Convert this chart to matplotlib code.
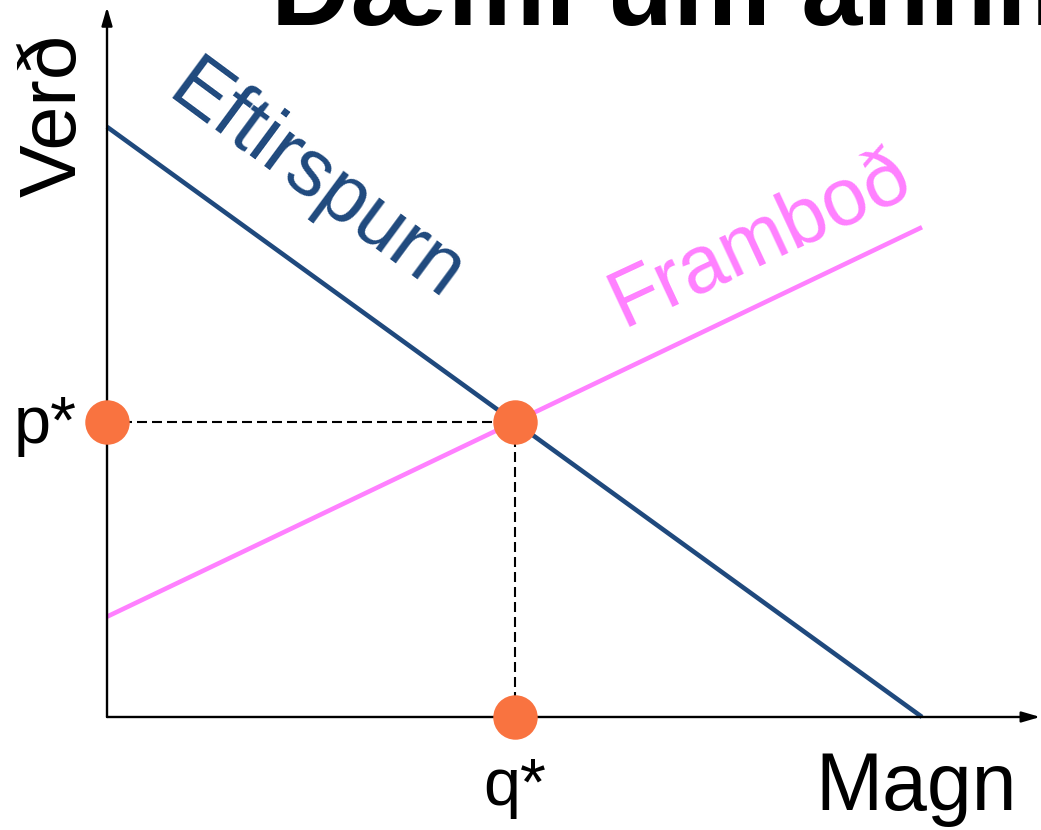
import numpy as np
import matplotlib.pyplot as plt

plt.rcParams['font.family'] = ['Liberation Sans', 'DejaVu Sans']

# demand / supply in abstract units (quantity, price)
demand_q = [0, 10]
demand_p = [10, 0]
supply_q = [0, 10]
supply_p = [1.7, 8.3]
eq_q = 5.0
eq_p = 5.0

navy = '#1F497D'
pink = '#FF80FF'
orange = '#F97340'

fig = plt.figure(figsize=(10.41, 8.3), dpi=100)
ax = fig.add_axes([0, 0, 1, 1])
ax.set_xlim(-1.313, 11.46)
ax.set_ylim(-1.915, 12.15)
ax.axis('off')

# axes with arrows
arrow = dict(arrowstyle='-|>,head_length=1.1,head_width=0.32', color='black',
             lw=1.7, shrinkA=0, shrinkB=0)
ax.annotate('', xy=(11.45, 0), xytext=(0, 0), arrowprops=arrow)
ax.annotate('', xy=(0, 12.03), xytext=(0, 0), arrowprops=arrow)

ax.plot(demand_q, demand_p, color=navy, lw=3.3, solid_capstyle='butt')
ax.plot(supply_q, supply_p, color=pink, lw=3.3, solid_capstyle='butt')

# equilibrium guides
ax.plot([0, eq_q], [eq_p, eq_p], color='black', lw=1.5, dashes=(4.8, 2.4))
ax.plot([eq_q, eq_q], [eq_p, 0], color='black', lw=1.5, dashes=(4.8, 2.4))
ax.plot([0, eq_q, eq_q], [eq_p, eq_p, 0], 'o', color=orange, ms=32,
        mec='none', zorder=5)

ax.text(-0.64, 10.2, 'Verð', fontsize=57, rotation=90, ha='center', va='center')
ax.text(8.69, -1.576, 'Magn', fontsize=58, ha='left', va='baseline')
ax.text(eq_q, -1.49, 'q*', fontsize=48, ha='center', va='baseline')
ax.text(-0.76, 4.64, 'p*', fontsize=48, ha='center', va='baseline')

ax.text(0.70, 10.5, 'Eftirspurn', fontsize=58, color=navy, rotation=-36.5,
        rotation_mode='anchor', ha='left', va='baseline')
ax.text(6.33, 6.6, 'Framboð', fontsize=58, color=pink, rotation=25,
        rotation_mode='anchor', ha='left', va='baseline')

ax.text(2.01, 11.72, 'Dæmi um annmarka', fontsize=79, fontweight='bold',
        ha='left', va='baseline')

plt.savefig('out.png', dpi=100)
